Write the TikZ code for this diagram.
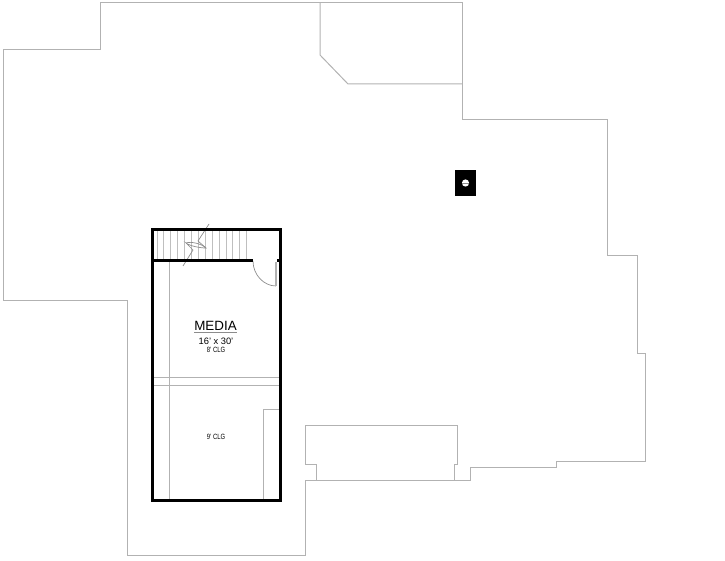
\documentclass[tikz,border=0pt]{standalone}
\usepackage{fontspec}
\setmainfont{Liberation Sans}
\usetikzlibrary{positioning}
\tikzset{x=1pt,y=-1pt}
\tikzset{thin line/.style={draw=black!30,line width=1pt,line join=miter}}
\tikzset{wall/.style={draw=black,line width=3pt}}
\tikzset{tread/.style={draw=black!25,line width=1pt}}
\tikzset{clg/.style={font=\fontsize{7.6}{8}\selectfont,inner sep=0pt,xscale=0.78,transform shape}}

\begin{document}
\begin{tikzpicture}
    \useasboundingbox (0,0) rectangle (725,561);
    % outline
    \draw[thin line] (100,2.5) -- (462,2.5) -- (462,120) -- (607,120) -- (607,256) -- (637,256) -- (637,353)
        -- (645,353) -- (645,461) -- (556,461) -- (556,467) -- (470,467) -- (470,480.5) -- (305,480.5)
        -- (305,555) -- (127,555) -- (127,300) -- (3,300) -- (3,50) -- (100,50) -- cycle;
    \draw[thin line] (320,2.5) -- (320,55) -- (348,84) -- (462,84);
    \draw[thin line] (316,480.5) -- (316,464) -- (305,464) -- (305,425) -- (457,425) -- (457,464) -- (454,464) -- (454,480.5);
    % chimney
    \fill[black] (455,170) rectangle (476,196);
    \fill[white] (465.5,183) circle (3.6);
    \draw[black!45,line width=0.4pt] (462,183) -- (469,183);
    % treads
    \foreach \x in {157,163.9,...,248}
        \draw[tread] (\x,231) -- (\x,260);
    \draw[black!45,line width=0.7pt] (209,224) -- (198,241) -- (206,248) .. controls (200,248) and (190,246) .. (186,243)
        -- (193,250) -- (183,266);
    \draw[black!45,line width=0.7pt] (186,243) .. controls (191,241) and (202,244) .. (206,248);
    % inside lines
    \draw[thin line] (169,261) -- (169,499);
    \draw[thin line] (153,377) -- (279,377);
    \draw[thin line] (153,385) -- (279,385);
    \draw[thin line] (279,409) -- (263,409) -- (263,499);
    % door
    \draw[black!45,line width=0.7pt] (253,261) .. controls (253,275) and (264,286) .. (276,286);
    \draw[thin line,line width=1.3pt] (276,262) -- (276,286);
    % walls
    \draw[wall] (152,230) rectangle (280,500);
    \draw[wall] (152,261) -- (253,261);
    \draw[wall] (277,261) -- (280,261);
    % labels
    \node[inner sep=0pt,font=\fontsize{13.4}{15}\selectfont] (media) at (215.5,325.5) {MEDIA};
    \draw[black!45,line width=0.5pt] (194,332.5) -- (237,332.5);
    \node[inner sep=0pt,font=\fontsize{9.3}{11}\selectfont] (size) at (216,341) {16' x 30'};
    \node[clg] (clgupper) at (216,350) {8' CLG};
    \node[clg] (clglower) at (216,437) {9' CLG};
\end{tikzpicture}
\end{document}
